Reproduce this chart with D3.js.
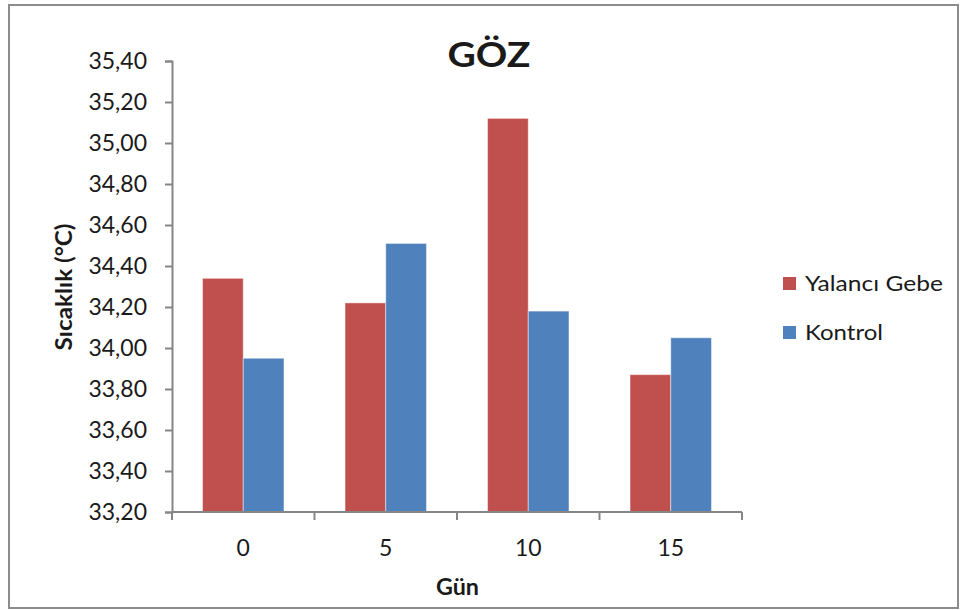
<!DOCTYPE html>
<html>
<head>
<meta charset="utf-8">
<script src="https://cdn.jsdelivr.net/npm/d3@7"></script>
<style>
  html, body { margin: 0; padding: 0; background: #fff; }
  svg text { font-family: Lato, "Open Sans", sans-serif; fill: #1a1a1a; }
</style>
</head>
<body>
<svg id="chart" width="964" height="610"></svg>
<script>
// Eye temperature by day, two groups
const days = ["0", "5", "10", "15"];
const seriesNames = ["Yalancı Gebe", "Kontrol"];
const yalanciGebe = [34.34, 34.22, 35.12, 33.87];
const kontrol = [33.95, 34.51, 34.18, 34.05];
const yTicks = [33.2, 33.4, 33.6, 33.8, 34.0, 34.2, 34.4, 34.6, 34.8, 35.0, 35.2, 35.4];
const colors = ["#C0504D", "#4F81BD"];

const svg = d3.select("#chart");

// outer frame
svg.append("rect")
  .attr("x", 9).attr("y", 5).attr("width", 949).attr("height", 603)
  .attr("fill", "#fff").attr("stroke", "#8c8c8c").attr("stroke-width", 2);

const plot = { left: 172, right: 742, top: 61, bottom: 512 };

const x0 = d3.scaleBand().domain(days).range([plot.left, plot.right]).paddingInner(0).paddingOuter(0);
const y = d3.scaleLinear().domain([33.2, 35.4]).range([plot.bottom, plot.top]);

// bar width follows a 150% gap between groups
const bw = x0.bandwidth() / 3.5;
const x1 = d3.scaleBand().domain(seriesNames).range([0, bw * 2]);

const data = days.map((d, i) => ({ day: d, values: [yalanciGebe[i], kontrol[i]] }));

const groups = svg.append("g").selectAll("g").data(data).join("g")
  .attr("transform", d => `translate(${x0(d.day) + (x0.bandwidth() - bw * 2) / 2},0)`);

groups.selectAll("rect")
  .data(d => d.values.map((v, j) => ({ name: seriesNames[j], v, j })))
  .join("rect")
  .attr("x", d => x1(d.name))
  .attr("y", d => y(d.v))
  .attr("width", x1.bandwidth())
  .attr("height", d => y(33.2) - y(d.v))
  .attr("fill", d => colors[d.j])
  .attr("stroke", "rgba(255,255,255,0.45)")
  .attr("stroke-width", 1);

// y axis
const yAxis = d3.axisLeft(y).tickValues(yTicks).tickSize(7).tickPadding(18)
  .tickFormat(d => d3.format(".2f")(d).replace(".", ","));
const gy = svg.append("g").attr("transform", `translate(${plot.left},0)`).call(yAxis);
gy.select(".domain").attr("stroke", "#868686").attr("stroke-width", 2);
gy.selectAll(".tick line").attr("stroke", "#868686").attr("stroke-width", 2);
gy.selectAll(".tick text").attr("font-size", 23).attr("fill", "#1a1a1a");

// x axis: ticks at category boundaries
const gx = svg.append("g").attr("transform", `translate(0,${plot.bottom})`);
gx.append("line").attr("x1", plot.left).attr("x2", plot.right).attr("y1", 0).attr("y2", 0)
  .attr("stroke", "#868686").attr("stroke-width", 2);
const bounds = days.map(d => x0(d)).concat([plot.right]);
gx.selectAll("line.tk").data(bounds).join("line").attr("class", "tk")
  .attr("x1", d => d).attr("x2", d => d).attr("y1", 0).attr("y2", 8)
  .attr("stroke", "#868686").attr("stroke-width", 2);
gx.selectAll("text").data(days).join("text")
  .attr("x", d => x0(d) + x0.bandwidth() / 2).attr("y", 44)
  .attr("text-anchor", "middle").attr("font-size", 23).text(d => d);

// title and axis titles
svg.append("text").attr("x", 489).attr("y", 67).attr("text-anchor", "middle")
  .attr("font-size", 34).attr("font-weight", "bold")
  .attr("textLength", 83).attr("lengthAdjust", "spacingAndGlyphs").text("GÖZ");
svg.append("text").attr("transform", "translate(72,287) rotate(-90)")
  .attr("text-anchor", "middle").attr("font-size", 22).attr("font-weight", "bold")
  .attr("textLength", 127).attr("lengthAdjust", "spacingAndGlyphs")
  .text("Sıcaklık (°C)");
svg.append("text").attr("x", 457.5).attr("y", 595).attr("text-anchor", "middle")
  .attr("font-size", 23).attr("font-weight", "bold")
  .attr("textLength", 43).attr("lengthAdjust", "spacingAndGlyphs").text("Gün");

// legend
const legendWidths = [138, 78];
const lg = svg.append("g").selectAll("g").data(seriesNames).join("g")
  .attr("transform", (d, i) => `translate(783,${277 + i * 49})`);
lg.append("rect").attr("width", 13).attr("height", 13).attr("fill", (d, i) => colors[i]);
lg.append("text").attr("x", 22).attr("y", 14).attr("font-size", 22)
  .attr("textLength", (d, i) => legendWidths[i]).attr("lengthAdjust", "spacingAndGlyphs")
  .text(d => d);
</script>
</body>
</html>
